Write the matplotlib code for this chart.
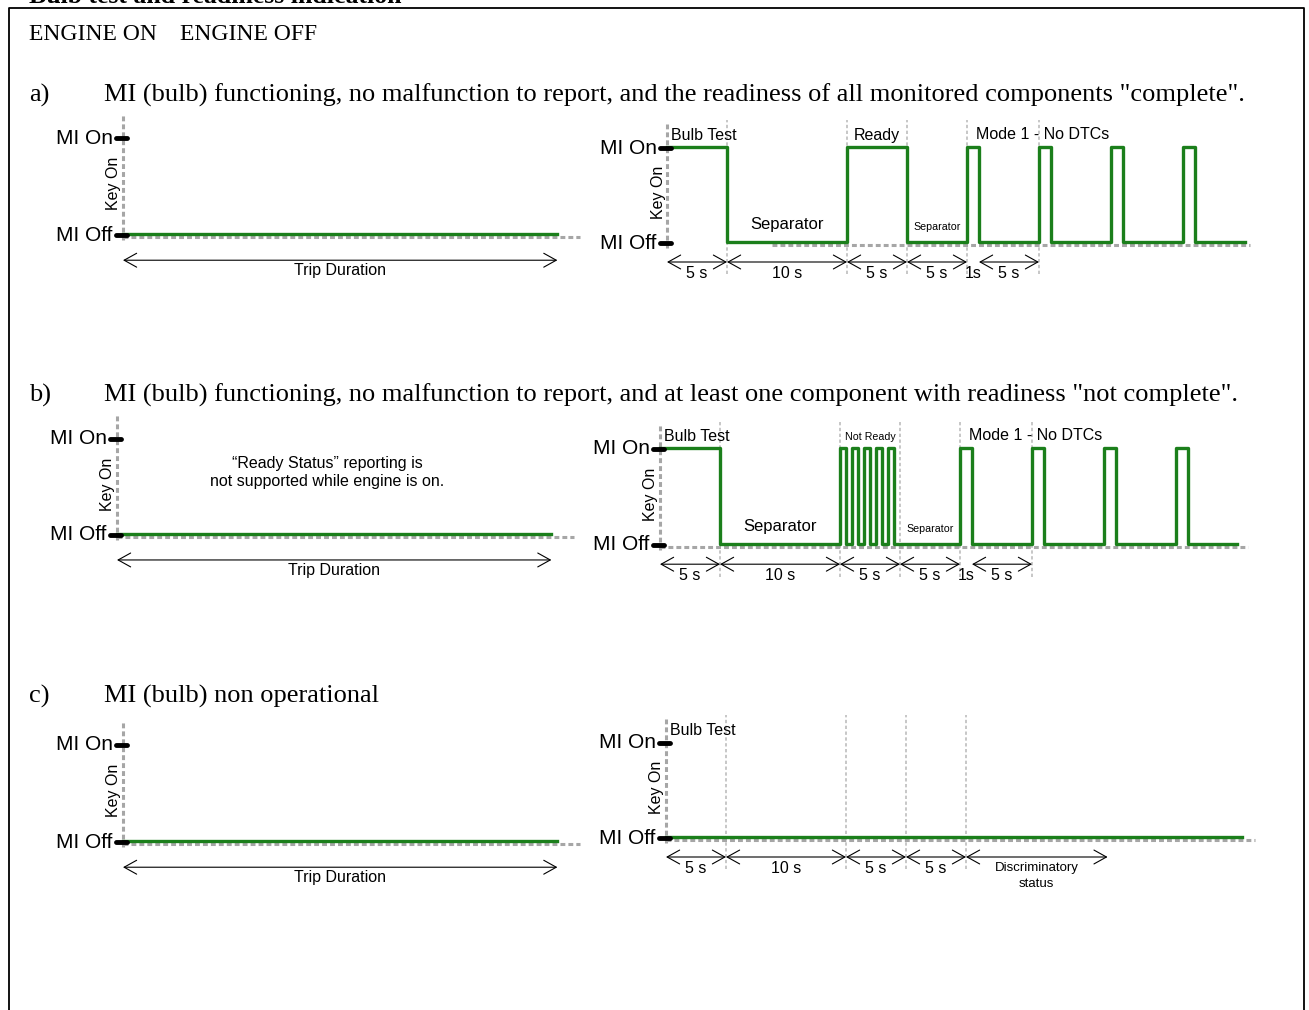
import matplotlib
matplotlib.use("Agg")
import matplotlib.pyplot as plt

plt.rcParams['font.family'] = ['Liberation Sans', 'DejaVu Sans']

W, H = 1309, 1010
PX_PER_S = 12

# ---- data ----
phase_labels = ["5 s", "10 s", "5 s", "5 s"]
phase_durations = [5, 10, 5, 5]          # bulb test, separator, ready, separator
mode1_on, mode1_off, mode1_pulses = 1, 5, 4
not_ready_on, not_ready_off, not_ready_pulses = 0.5, 0.5, 5
trace_end = [48.2, 48.1, 48.0]
gray_start = [8.75, 0, 0]
gray_end = [48.6, 49.0, 49.1]
trip_duration = 36.2
trip_gray_end = 38.1
discrim_duration = 11.8

captions = [
    ("a)", 'MI (bulb) functioning, no malfunction to report, and the readiness of all monitored components "complete".'),
    ("b)", 'MI (bulb) functioning, no malfunction to report, and at least one component with readiness "not complete".'),
    ("c)", "MI (bulb) non operational"),
]
caption_y = [95, 395, 696]
# (key-on x, MI On y, MI Off y) in pixels
left_panels = [(123, 138, 235), (117, 439, 535), (123, 745, 842)]
right_panels = [(667, 148, 243), (660, 449, 545), (666, 743, 838)]

GREEN = '#1b7f1b'
GRAY = '#a6a6a6'
LGRAY = '#bdbdbd'


def waveform(kind):
    segs = [(phase_durations[0], 1), (phase_durations[1], 0)]
    if kind == 'ready':
        segs.append((phase_durations[2], 1))
    else:
        for i in range(not_ready_pulses):
            segs += [(not_ready_on, 1), (not_ready_off, 0)]
    segs.append((phase_durations[3], 0))
    for i in range(mode1_pulses):
        segs += [(mode1_on, 1), (mode1_off, 0)]
    t, lv, now = [], [], 0
    for dur, state in segs:
        t.append(now)
        lv.append(state)
        now += dur
    return t, lv


fig = plt.figure(figsize=(W / 100, H / 100), dpi=100)
base = fig.add_axes([0, 0, 1, 1])
base.set_xlim(0, W)
base.set_ylim(H, 0)
base.axis('off')

base.plot([9, 9, 1304, 1304], [1015, 8, 8, 1015], color='black', lw=1.3)
serif = ['Liberation Serif', 'DejaVu Serif']
base.text(29, 3, "Bulb test and readiness indication", family=serif,
          fontsize=18.5, fontweight='bold', va='baseline')
base.text(29, 34, "ENGINE ON", family=serif, fontsize=17, va='center')
base.text(180, 34, "ENGINE OFF", family=serif, fontsize=17, va='center')
for (lab, txt), y in zip(captions, caption_y):
    base.text(29, y, lab, family=serif, fontsize=19, va='center')
    base.text(104, y, txt, family=serif, fontsize=19, va='center')


def make_panel(x0, y_on, y_off, t_lo, t_hi):
    d = y_off - y_on
    lv_lo, lv_hi = -0.9, 1.5
    top = y_on - (lv_hi - 1) * d
    bottom = y_off - lv_lo * d
    left = x0 + t_lo * PX_PER_S
    right = x0 + t_hi * PX_PER_S
    ax = fig.add_axes([left / W, 1 - bottom / H, (right - left) / W, (bottom - top) / H])
    ax.set_xlim(t_lo, t_hi)
    ax.set_ylim(lv_lo, lv_hi)
    ax.axis('off')
    # key-on line
    ax.plot([0, 0], [-0.05, 1.25], color=GRAY, lw=2.2, dashes=(1.6, 1.0), zorder=1)
    for lv, name in [(1, "MI On"), (0, "MI Off")]:
        ax.plot([-0.6, 0.35], [lv, lv], color='black', lw=3.5, solid_capstyle='round', zorder=4)
        ax.text(-0.85, lv, name, ha='right', va='center', fontsize=15)
    ax.text(-0.75, 0.53, "Key On", rotation=90, ha='center', va='center', fontsize=11.5)
    return ax


def dim_arrow(ax, t1, t2, lv, label, lv_text, fs=11.5):
    ax.annotate('', xy=(t1, lv), xytext=(t2, lv),
                arrowprops=dict(arrowstyle='<->,head_length=0.9,head_width=0.5',
                                lw=0.8, color='black', shrinkA=0, shrinkB=0,
                                mutation_scale=10))
    ax.text((t1 + t2) / 2, lv_text, label, ha='center', va='center', fontsize=fs)


# ---- left (engine on) panels ----
for i, (x0, y_on, y_off) in enumerate(left_panels):
    ax = make_panel(x0, y_on, y_off, -9, 40)
    ax.plot([0, trip_gray_end], [-0.02, -0.02], color=GRAY, lw=2.2, dashes=(1.6, 1.0), zorder=2)
    ax.plot([0, trip_duration], [0.01, 0.01], color=GREEN, lw=2.4, zorder=3)
    dim_arrow(ax, 0, trip_duration, -0.26, "Trip Duration", -0.37)
    if i == 1:
        ax.text(17.5, 0.65, "\u201cReady Status\u201d reporting is\nnot supported while engine is on.",
                ha='center', va='center', fontsize=11.5, linespacing=1.3)

# ---- right (engine off) panels ----
bounds = [0]
for dur in phase_durations:
    bounds.append(bounds[-1] + dur)

for i, (x0, y_on, y_off) in enumerate(right_panels):
    ax = make_panel(x0, y_on, y_off, -9, 50)
    ax.plot([gray_start[i], gray_end[i]], [-0.025, -0.025], color=GRAY, lw=2.2,
            dashes=(1.6, 1.0), zorder=2)
    vlines = bounds[1:] if i == 2 else bounds[1:] + [bounds[-1] + mode1_on + mode1_off]
    for tb in vlines:
        ax.plot([tb, tb], [-0.33, 1.3], color=LGRAY, lw=1.2, dashes=(2, 1.5), zorder=1)

    if i < 2:
        t, lv = waveform('ready' if i == 0 else 'not_ready')
        keep = [k for k in range(len(t)) if t[k] < trace_end[i]]
        t = [t[k] for k in keep] + [trace_end[i]]
        lv = [lv[k] for k in keep] + [lv[keep[-1]]]
        lv = [v + 0.015 for v in lv]
        ax.plot(t, lv, drawstyle='steps-post', color=GREEN, lw=2.4, zorder=3)
    else:
        ax.plot([0, trace_end[i]], [0.015, 0.015], color=GREEN, lw=2.4, zorder=3)

    for k, lab in enumerate(phase_labels):
        dim_arrow(ax, bounds[k], bounds[k + 1], -0.2, lab, -0.32)

    ax.text(0.3, 1.13, "Bulb Test", ha='left', va='center', fontsize=11.5)
    if i < 2:
        ax.text(bounds[4] + mode1_on / 2, -0.32, "1s", ha='center', va='center', fontsize=11.5)
        dim_arrow(ax, bounds[4] + mode1_on, bounds[4] + mode1_on + mode1_off, -0.2, "5 s", -0.32)
        ax.text((bounds[1] + bounds[2]) / 2, 0.19, "Separator", ha='center', va='center', fontsize=12)
        ax.text((bounds[3] + bounds[4]) / 2, 0.17, "Separator", ha='center', va='center', fontsize=7.7)
        ax.text(bounds[4] + 0.75, 1.14, "Mode 1 - No DTCs", ha='left', va='center', fontsize=11.5)
        if i == 0:
            ax.text((bounds[2] + bounds[3]) / 2, 1.13, "Ready", ha='center', va='center', fontsize=11.5)
        else:
            ax.text((bounds[2] + bounds[3]) / 2, 1.13, "Not Ready", ha='center', va='center', fontsize=7.7)
    else:
        dim_arrow(ax, bounds[4], bounds[4] + discrim_duration, -0.2, "", -0.32)
        ax.text(bounds[4] + discrim_duration / 2, -0.4, "Discriminatory\nstatus",
                ha='center', va='center', fontsize=9.5, linespacing=1.35)

fig.savefig("out.png", dpi=100)
